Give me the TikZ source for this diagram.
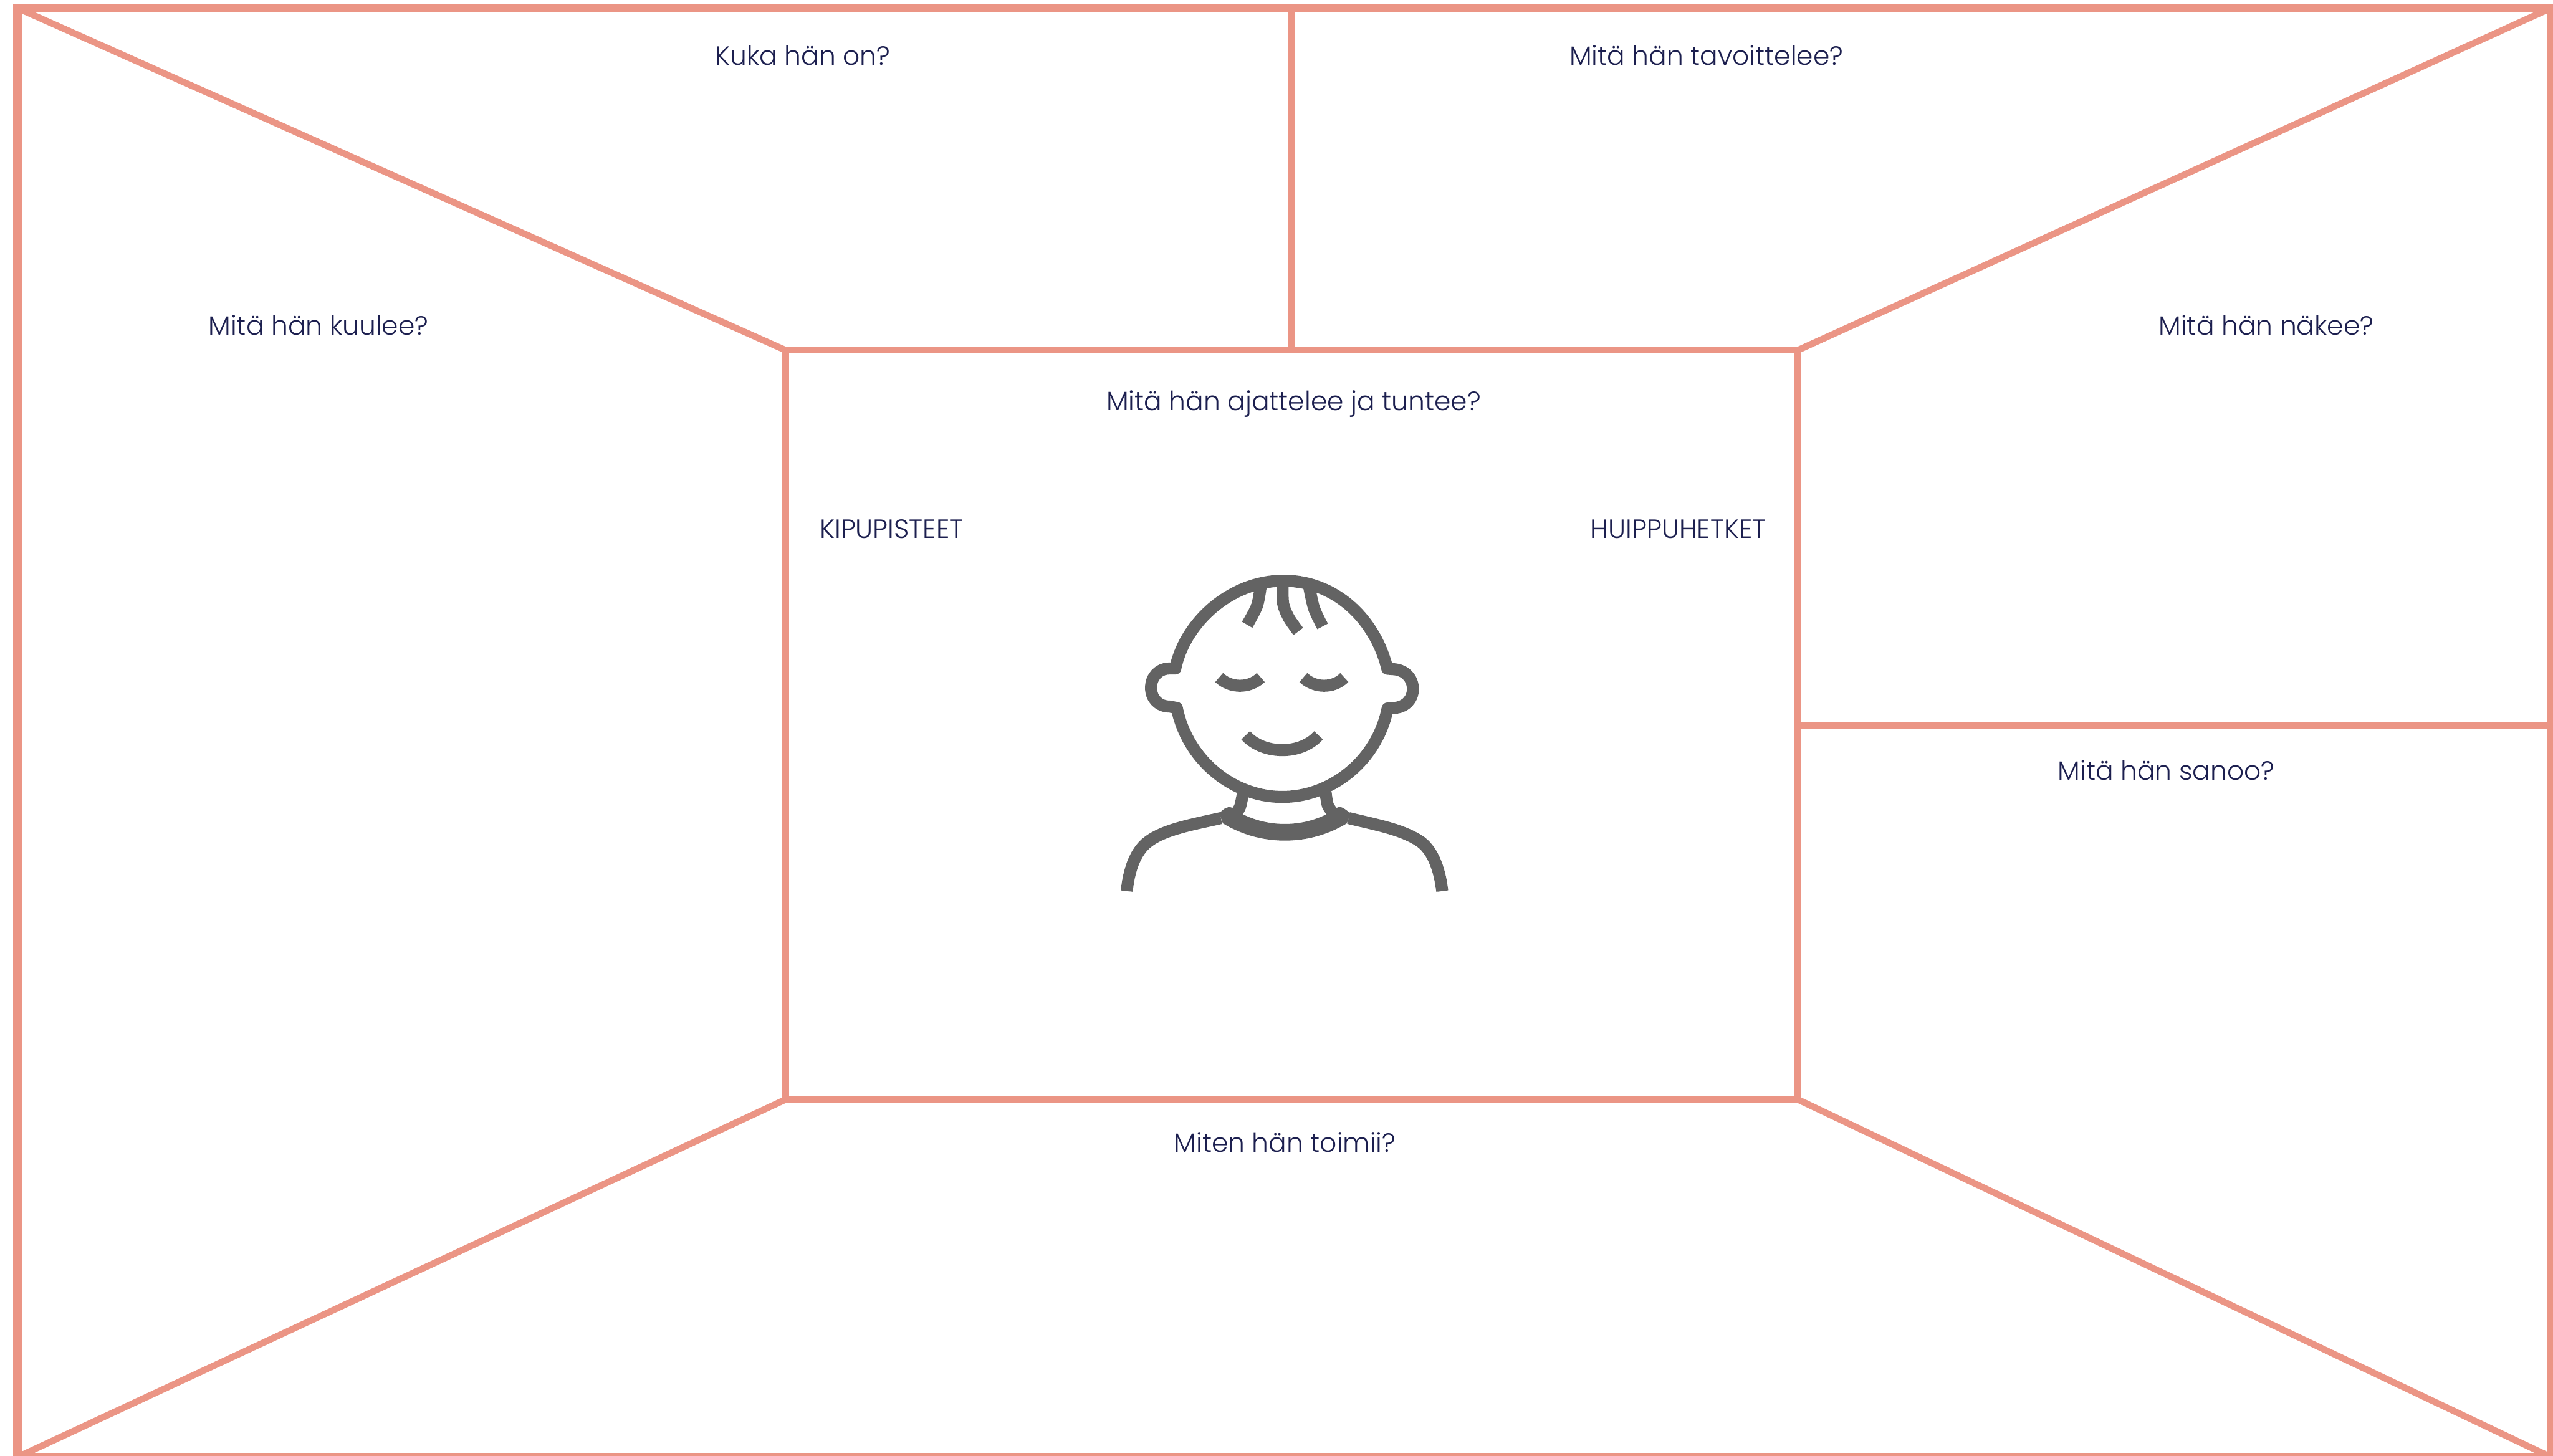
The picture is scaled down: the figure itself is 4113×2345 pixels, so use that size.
\documentclass[tikz,border=0pt]{standalone}
\usepackage{fontspec}
\setmainfont{Poppins Light}
\usepackage{xcolor}
\usepackage{tikz}
\definecolor{salmon}{HTML}{EB9585}
\definecolor{inkblue}{HTML}{1C1F4F}
\definecolor{facegray}{HTML}{636363}
\tikzset{
  panel/.style={
    draw=salmon,
    outer sep=0pt,
    inner sep=0pt,
    line width=3.9pt
  },
  wall/.style={draw=salmon, line width=3pt},
  question/.style={
    anchor=base,
    inner sep=0pt,
    text=inkblue,
    font=\fontsize{12.1pt}{14pt}\selectfont
  },
  sketch/.style={draw=facegray, line width=5.5pt, line join=round}
}

\begin{document}
\begin{tikzpicture}[x=0.01cm, y=-0.01cm]
  \useasboundingbox (0,0) rectangle (4113,2345);

  \node[panel, minimum width=40.8cm, minimum height=23.335cm] (frame) at (2069,1180.25) {};
  \node[panel, line width=3pt, minimum width=16.3cm, minimum height=12.065cm] (inner) at (2081,1167.75) {};
  \coordinate (split) at (2896,1169.5);

  \draw[wall] (frame.north west) -- (inner.north west);
  \draw[wall] (frame.north east) -- (inner.north east);
  \draw[wall] (frame.south west) -- (inner.south west);
  \draw[wall] (frame.south east) -- (inner.south east);
  \draw[wall] (inner.north) -- (inner.north |- frame.north);
  \draw[wall] (split) -- (split -| frame.east);

  \node[question] (who) at (1293,105) {Kuka hän on?};
  \node[question] (goal) at (2749,105) {Mitä hän tavoittelee?};
  \node[question] (hear) at (513,540) {Mitä hän kuulee?};
  \node[question] (see) at (3651,540) {Mitä hän näkee?};
  \node[question] (think) at (2084,661) {Mitä hän ajattelee ja tuntee?};
  \node[question, anchor=base west] (pains) at (1320,867) {KIPUPISTEET};
  \node[question, anchor=base east] (peaks) at (2846,867) {HUIPPUHETKET};
  \node[question] (say) at (3490,1257) {Mitä hän sanoo?};
  \node[question] (act) at (2070,1856) {Miten hän toimii?};

  % face
  \begin{scope}[shift={(1750,880)}, x=0.00408cm, y=-0.003827cm]
    \draw[sketch] (352,514) .. controls (390,320) and (570,145) .. (780,145)
      .. controls (980,145) and (1140,300) .. (1190,515)
      -- (1215,517) .. controls (1260,520) and (1291,555) .. (1291,600) .. controls (1291,645) and (1260,678) .. (1215,680)
      -- (1191,682) .. controls (1150,900) and (970,1054) .. (775,1054)
      .. controls (580,1054) and (400,900) .. (358,680)
      -- (330,674) .. controls (285,674) and (256,640) .. (256,595) .. controls (256,550) and (285,514) .. (330,514) -- cycle;

    \draw[sketch] plot[smooth] coordinates {(690,165) (675,250) (636,330)};
    \draw[sketch] plot[smooth] coordinates {(776,150) (778,240) (800,300) (838,358)};
    \draw[sketch] plot[smooth] coordinates {(880,165) (900,260) (934,337)};

    \draw[sketch] (525,552) .. controls (570,598) and (645,598) .. (690,552);
    \draw[sketch] (858,552) .. controls (903,598) and (978,598) .. (1020,552);
    \draw[sketch] (630,795) .. controls (700,878) and (850,878) .. (918,795);

    \draw[sketch] plot[smooth] coordinates {(620,1035) (608,1095) (590,1125)};
    \draw[sketch] plot[smooth] coordinates {(946,1035) (955,1090) (978,1125)};
    \fill[facegray] (525,1122) .. controls (545,1105) and (555,1090) .. (578,1100) -- (615,1125)
      .. controls (720,1182) and (850,1182) .. (953,1125) -- (990,1100) .. controls (1010,1088) and (1025,1110) .. (1045,1122)
      -- (1030,1165) .. controls (880,1262) and (690,1262) .. (540,1165) -- cycle;

    \draw[sketch] (532,1143) .. controls (420,1170) and (310,1190) .. (245,1242) .. controls (190,1285) and (168,1370) .. (160,1450);
    \draw[sketch] (1037,1143) .. controls (1140,1170) and (1250,1190) .. (1322,1243) .. controls (1375,1285) and (1398,1370) .. (1407,1450);
  \end{scope}
\end{tikzpicture}
\end{document}
